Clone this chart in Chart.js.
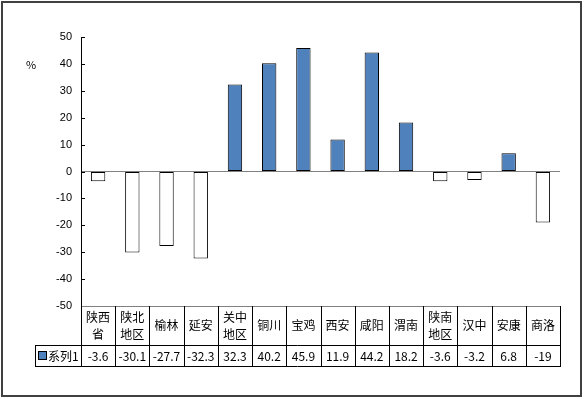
<!DOCTYPE html>
<html><head><meta charset="utf-8">
<script src="https://cdn.jsdelivr.net/npm/chart.js@4.4.1/dist/chart.umd.min.js"></script>
<style>html,body{margin:0;padding:0;background:#fff}#wrap{width:584px;height:399px;position:relative}</style>
</head><body><div id="wrap"><canvas id="c" width="584" height="399"></canvas></div>
<script>
const categories = [["陕西","省"],["陕北","地区"],["榆林"],["延安"],["关中","地区"],["铜川"],["宝鸡"],["西安"],["咸阳"],["渭南"],["陕南","地区"],["汉中"],["安康"],["商洛"]];
const seriesName = "系列1";
const values = [-3.6,-30.1,-27.7,-32.3,32.3,40.2,45.9,11.9,44.2,18.2,-3.6,-3.2,6.8,-19];
const yMin = -50, yMax = 50, yStep = 10;
const yUnit = "%";

const POS = '#4F81BD', NEG = '#FFFFFF';
const CJK = '"Noto Sans CJK SC", "Noto Sans", sans-serif';

const tablePlugin = {
  id: 'tablePlugin',
  afterDraw(chart) {
    const ctx = chart.ctx, ca = chart.chartArea, ys = chart.scales.y;
    const n = categories.length;
    const cw = (ca.right - ca.left) / n;
    const top = ca.bottom, mid = top + 39, bot = mid + 21;
    const legL = 35;
    ctx.save();
    // inward tick marks
    ctx.strokeStyle = '#000'; ctx.lineWidth = 1;
    for (let v = yMin; v <= yMax; v += yStep) {
      const y = Math.round(ys.getPixelForValue(v)) + 0.5;
      ctx.beginPath(); ctx.moveTo(ca.left, y); ctx.lineTo(ca.left + 4, y); ctx.stroke();
    }
    // unit label
    ctx.fillStyle = '#000'; ctx.font = '11px ' + CJK; ctx.textAlign = 'center'; ctx.textBaseline = 'middle';
    ctx.fillText(yUnit, 31, ys.getPixelForValue(40) + 1);
    // table lines
    ctx.strokeStyle = '#000';
    const hl = (x1, x2, y) => { ctx.beginPath(); ctx.moveTo(x1, Math.round(y) + 0.5); ctx.lineTo(x2, Math.round(y) + 0.5); ctx.stroke(); };
    const vl = (x, y1, y2) => { ctx.beginPath(); ctx.moveTo(Math.round(x) + 0.5, y1); ctx.lineTo(Math.round(x) + 0.5, y2); ctx.stroke(); };
    ctx.strokeStyle = '#808080';
    hl(ca.left, ca.right, top);
    ctx.strokeStyle = '#000';
    hl(legL, ca.right, mid);
    hl(legL, ca.right, bot);
    vl(legL, mid, bot + 1);
    for (let i = 0; i <= n; i++) vl(ca.left + i * cw, top, bot + 1);
    // header text
    ctx.textAlign = 'center'; ctx.textBaseline = 'middle'; ctx.fillStyle = '#000';
    ctx.font = '12px ' + CJK;
    for (let i = 0; i < n; i++) {
      const cx = ca.left + (i + 0.5) * cw;
      const lines = categories[i];
      const hc = (top + mid) / 2;
      if (lines.length === 1) ctx.fillText(lines[0], cx, hc);
      else { ctx.fillText(lines[0], cx, hc - 8.5); ctx.fillText(lines[1], cx, hc + 8.5); }
      ctx.fillText(String(values[i]), cx, (mid + bot) / 2 + 1);
    }
    // legend cell
    ctx.fillStyle = POS; ctx.fillRect(38.5, 351.5, 8, 8);
    ctx.strokeStyle = '#000'; ctx.strokeRect(38.5, 351.5, 8, 8);
    ctx.fillStyle = '#000'; ctx.textAlign = 'left';
    ctx.fillText(seriesName, 48, (mid + bot) / 2 + 1);
    // outer frame
    ctx.strokeStyle = '#404040'; ctx.lineWidth = 2;
    ctx.strokeRect(2, 2, 579, 394);
    ctx.restore();
  }
};

new Chart(document.getElementById('c'), {
  type: 'bar',
  data: {
    labels: categories.map(c => c.join('')),
    datasets: [{
      label: seriesName,
      data: values,
      backgroundColor: values.map(v => v >= 0 ? POS : NEG),
      borderColor: '#000',
      borderWidth: 1,
      borderSkipped: false,
      categoryPercentage: 1,
      barPercentage: 0.42
    }]
  },
  options: {
    responsive: false, animation: false, devicePixelRatio: 1,
    layout: { padding: { left: 31, top: 37, right: 24, bottom: 93 } },
    plugins: { legend: { display: false }, tooltip: { enabled: false } },
    scales: {
      x: { display: false, offset: true },
      y: {
        min: yMin, max: yMax,
        afterFit(s) { s.width = 50; },
        ticks: { stepSize: yStep, color: '#000', padding: 9, font: { family: 'Liberation Sans, Arial, sans-serif', size: 11 } },
        grid: { drawTicks: false, color: c => c.tick && c.tick.value === 0 ? '#808080' : 'rgba(0,0,0,0)' },
        border: { display: true, color: '#000' }
      }
    }
  },
  plugins: [tablePlugin]
});
</script></body></html>
